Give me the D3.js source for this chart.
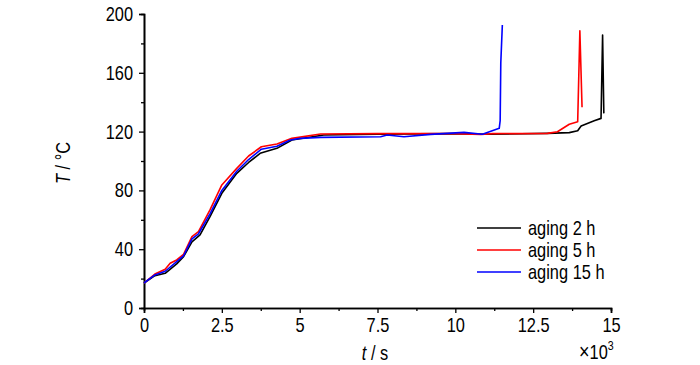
<!DOCTYPE html>
<html>
<head>
<meta charset="utf-8">
<script src="https://cdn.jsdelivr.net/npm/d3@7"></script>
<style>
  html, body { margin: 0; padding: 0; background: #fff; }
  svg text { font-family: "Liberation Sans", Arial, sans-serif; fill: #000; }
</style>
</head>
<body>
<svg id="chart" width="700" height="365"></svg>
<script>
// ---- data (t in 10^3 s, T in °C) ----
const seriesNames = ["aging 2 h", "aging 5 h", "aging 15 h"];
const seriesColors = ["#000000", "#ff0000", "#0000ff"];

const aging2h = [
  [0,17],[0.35,22],[0.68,23.6],[1.05,30],[1.27,34.9],[1.54,45],[1.80,49.7],[2.12,62.1],[2.50,78],
  [2.98,91.6],[3.36,99],[3.73,105.2],[4.27,108.6],[4.75,114.3],[5.77,117.7],[7.5,118.3],[10.0,118.6],
  [11.07,118.2],[12.96,118.8],[13.66,119.3],[13.93,120.6],[14.04,123.8],[14.46,127.4],[14.68,129.0],
  [14.73,185.7],[14.77,132.4]
];
const aging5h = [
  [0,17],[0.35,23.1],[0.68,26.3],[0.84,30.4],[1.05,32.7],[1.27,36.5],[1.54,48.5],[1.75,51.9],[2.12,66.7],
  [2.50,83.7],[2.98,95],[3.36,103.4],[3.77,109.7],[4.27,111.6],[4.75,115.4],[5.67,118.4],[7.5,118.6],
  [10.0,118.6],[10.82,118.0],[11.2,118.6],[12.96,118.8],[13.28,119.9],[13.66,125.0],[13.93,126.7],
  [14.00,188.6],[14.07,136.5]
];
const aging15h = [
  [0,17],[0.35,22.5],[0.68,25],[1.05,31.5],[1.27,35.5],[1.54,47],[1.75,50.5],[2.12,64],[2.50,80],
  [2.98,93],[3.36,101],[3.77,108],[4.27,110],[4.70,114.3],[5.02,115.4],[5.67,116.1],[7.6,116.5],
  [7.81,117.7],[8.35,116.5],[9.21,118.1],[10.28,119.5],[10.87,118.2],[11.41,122.2],[11.44,127.4],
  [11.46,166.7],[11.51,192.5]
];
const allSeries = [aging2h, aging5h, aging15h];

const xMajorTicks = [0, 2.5, 5, 7.5, 10, 12.5, 15];
const xMinorTicks = [1.25, 3.75, 6.25, 8.75, 11.25, 13.75];
const yMajorTicks = [0, 40, 80, 120, 160, 200];
const yMinorTicks = [20, 60, 100, 140, 180];

// ---- drawing ----
const svg = d3.select("#chart");
const x = d3.scaleLinear().domain([0, 15]).range([144, 611]);
const y = d3.scaleLinear().domain([0, 200]).range([308, 14]);
const fs = 20;
const sx = 0.82; // horizontal condensing to mimic a narrow face

function styleAxis(g) {
  g.select(".domain").attr("stroke", "#000").attr("stroke-width", 1.6);
  g.selectAll(".tick line").attr("stroke", "#000").attr("stroke-width", 1.3);
  g.selectAll(".tick text").attr("font-size", fs).attr("font-family", null);
}

// condensed text helper: places text at (px,py) and squeezes it horizontally
function ctext(px, py, rot) {
  const g = svg.append("g").attr("transform", `translate(${px},${py})` + (rot ? ` rotate(${rot})` : ""));
  return g.append("text").attr("transform", `scale(${sx},1)`).attr("font-size", fs);
}

// minor ticks
svg.append("g").attr("transform", `translate(0,${y(0)})`)
  .call(d3.axisBottom(x).tickValues(xMinorTicks).tickSize(3).tickFormat(""))
  .call(styleAxis);
svg.append("g").attr("transform", `translate(${x(0)},0)`)
  .call(d3.axisLeft(y).tickValues(yMinorTicks).tickSize(3).tickFormat(""))
  .call(styleAxis);

// major ticks
const xAxisG = svg.append("g").attr("transform", `translate(0,${y(0)})`)
  .call(d3.axisBottom(x).tickValues(xMajorTicks).tickSize(5).tickPadding(5).tickFormat(d => String(d)))
  .call(styleAxis);
xAxisG.selectAll(".tick text").attr("transform", `scale(${sx},1)`);

const yAxisG = svg.append("g").attr("transform", `translate(${x(0)},0)`)
  .call(d3.axisLeft(y).tickValues(yMajorTicks).tickSize(5).tickPadding(6).tickFormat(d => String(d)))
  .call(styleAxis);
yAxisG.selectAll(".tick text").attr("x", -11 / sx).attr("transform", `scale(${sx},1)`);

// lines
const line = d3.line().x(d => x(d[0])).y(d => y(d[1]));
allSeries.forEach((s, i) => {
  svg.append("path").datum(s)
    .attr("fill", "none")
    .attr("stroke", seriesColors[i])
    .attr("stroke-width", 1.6)
    .attr("stroke-linejoin", "round")
    .attr("d", line);
});

// axis titles
const yt = ctext(70, 163, -90).attr("text-anchor", "middle");
yt.append("tspan").attr("font-style", "italic").text("T");
yt.append("tspan").text(" / °C");

const xt = ctext(375, 360).attr("text-anchor", "middle");
xt.append("tspan").attr("font-style", "italic").text("t");
xt.append("tspan").text(" / s");

const mult = ctext(579, 359);
mult.append("tspan").attr("font-size", 22).text("×");
mult.append("tspan").text("10");
mult.append("tspan").attr("dy", -9).attr("font-size", 13).text("3");

// legend
const legendY = [228, 250, 272];
seriesNames.forEach((name, i) => {
  svg.append("line")
    .attr("x1", 477).attr("x2", 521)
    .attr("y1", legendY[i]).attr("y2", legendY[i])
    .attr("stroke", seriesColors[i]).attr("stroke-width", 1.5);
  ctext(528, legendY[i]).attr("dy", "0.35em").text(name);
});
</script>
</body>
</html>
